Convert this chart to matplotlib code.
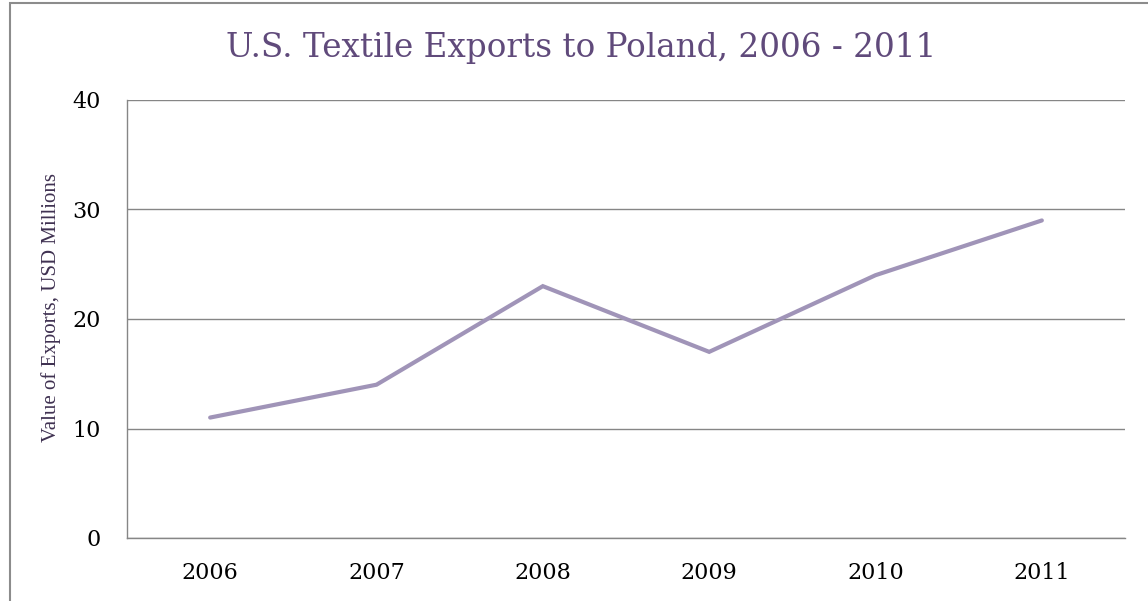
import matplotlib
matplotlib.use("Agg")
import matplotlib.pyplot as plt
from matplotlib.patches import Rectangle

years = ["2006", "2007", "2008", "2009", "2010", "2011"]
values = [11, 14, 23, 17, 24, 29]
yticks = [0, 10, 20, 30, 40]

W, H = 1148, 601
fig = plt.figure(figsize=(W / 100, H / 100), dpi=100)
fig.patch.set_facecolor("white")

# outer chart frame (partly cropped)
fig.add_artist(Rectangle((10 / W, -0.1), 1.2, (H - 3) / H + 0.1, transform=fig.transFigure,
                         fill=False, edgecolor="#8c8c8c", linewidth=1.5))

ax = fig.add_axes([127 / W, 1 - 538 / H, (1125 - 127) / W, (538 - 100) / H])
x = list(range(len(years)))
ax.plot(x, values, color="#a094b8", linewidth=3.0, solid_capstyle="round", solid_joinstyle="miter")
ax.set_xlim(-0.5, 5.5)
ax.set_ylim(0, 40)
ax.set_yticks(yticks)
ax.set_xticks(x)
ax.set_xticklabels(years)
ax.yaxis.grid(True, color="#868686", linewidth=1.0)
ax.set_axisbelow(True)
for s in ["top", "right"]:
    ax.spines[s].set_visible(False)
for s in ["left", "bottom"]:
    ax.spines[s].set_color("#868686")
    ax.spines[s].set_linewidth(1.0)
ax.tick_params(axis="both", length=0, labelsize=16, labelcolor="black")
ax.tick_params(axis="y", pad=19)
ax.tick_params(axis="x", pad=17)
for lab in ax.get_xticklabels() + ax.get_yticklabels():
    lab.set_family("DejaVu Serif")

ax.set_ylabel("Value of Exports, USD Millions", family="Liberation Serif", fontsize=15,
              color="#3f3151")
ax.yaxis.set_label_coords(-(127 - 51) / (1125 - 127), (538 - 307) / (538 - 100))
ax.yaxis.label.set_va("center")

fig.text(0.5 * (228 + 935) / W, 1 - 48 / H, "U.S. Textile Exports to Poland, 2006 - 2011",
         ha="center", va="center", family="DejaVu Serif", fontsize=23.5, color="#604a7b")

fig.savefig("out.png", dpi=100)
